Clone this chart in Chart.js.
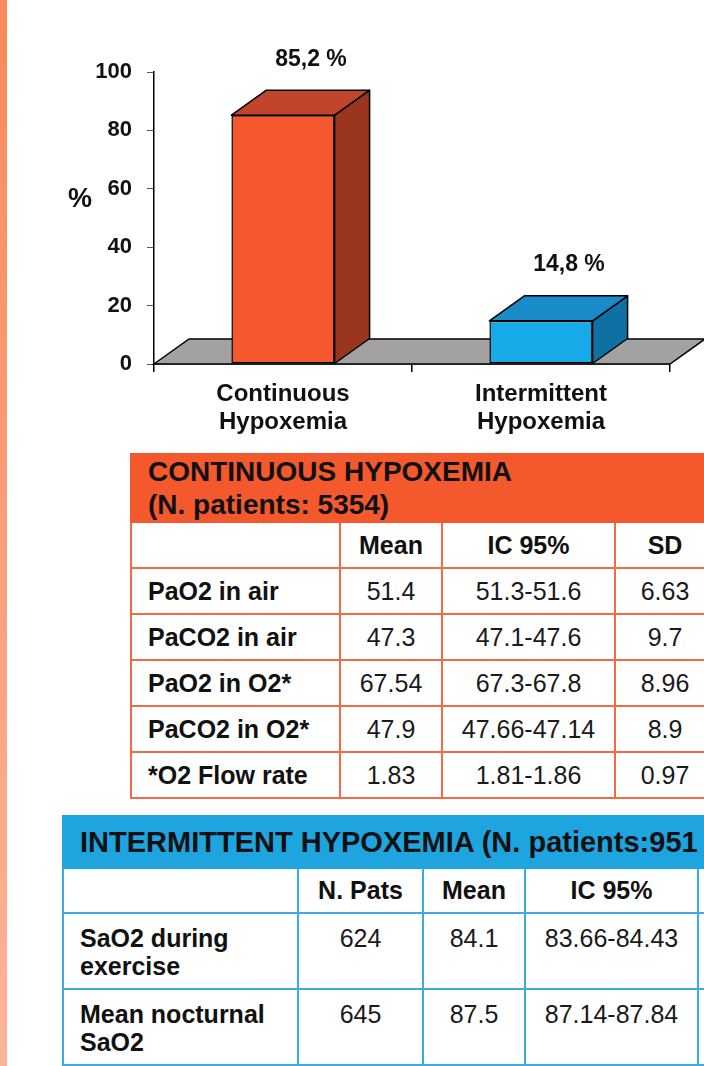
<!DOCTYPE html>
<html>
<head>
<meta charset="utf-8">
<script src="https://cdn.jsdelivr.net/npm/chart.js@4.4.1/dist/chart.umd.min.js"></script>
<style>
  html, body { margin: 0; padding: 0; }
  body {
    width: 704px; height: 1066px; overflow: hidden; position: relative;
    background: #fff; font-family: "Liberation Sans", Arial, sans-serif; color: #111;
  }
  #stripe {
    position: absolute; left: 0; top: 0; width: 7px; height: 1066px;
    background: linear-gradient(#f98a5a, #fbb498);
  }
  #chartBox { position: absolute; left: 0; top: 0; width: 704px; height: 450px; }
  table { position: absolute; border-collapse: collapse; table-layout: fixed; }
  td { font-size: 25px; padding: 0; text-align: center; white-space: nowrap; color: #1a1a1a; }
  td.lbl { text-align: left; padding-left: 16px; font-weight: bold; color: #111; }
  td.hd { font-weight: bold; color: #111; }
  td.title { font-weight: bold; color: #111; }

  #contTable { left: 130px; top: 453px; width: 584px; }
  #contTable td { border: 2px solid #f06c47; height: 44px; }
  #contTable td.title {
    background: #f4592e; border-color: #f4592e; height: 66px; text-align: left;
    vertical-align: top; padding-left: 16px; font-size: 28px; line-height: 33px;
  }

  #interTable { left: 62px; top: 815px; width: 740px; }
  #interTable td { border: 2px solid #3aacdf; }
  #interTable td.title {
    background: #1ea4df; border-color: #1ea4df; height: 48px; text-align: left;
    padding-left: 16px; font-size: 29px; line-height: 49px; vertical-align: top; padding-top: 1px;
  }
  #interTable tr.head td { height: 43px; }
  #interTable tr.row td { height: 64px; vertical-align: top; padding-top: 10px; line-height: 28px; }
  #interTable td.lbl { padding-left: 16px; }
</style>
</head>
<body>
<div id="stripe"></div>
<div id="chartBox"><canvas id="barchart" width="704" height="450"></canvas></div>
<table id="contTable"></table>
<table id="interTable"></table>

<script>
// chart data
const categories = [["Continuous", "Hypoxemia"], ["Intermittent", "Hypoxemia"]];
const percentValues = [85.2, 14.8];
const valueLabels = ["85,2 %", "14,8 %"];
const frontColors = ["#f5582f", "#17a9e8"];
const topColors = ["#c1452b", "#1a8bc9"];
const sideColors = ["#9a3520", "#0f70a3"];

// continuous hypoxemia table
const contTitle = ["CONTINUOUS HYPOXEMIA", "(N. patients: 5354)"];
const contHeader = ["", "Mean", "IC 95%", "SD"];
const contLabels = ["PaO2 in air", "PaCO2 in air", "PaO2 in O2*", "PaCO2 in O2*", "*O2 Flow rate"];
const contMean = ["51.4", "47.3", "67.54", "47.9", "1.83"];
const contIC = ["51.3-51.6", "47.1-47.6", "67.3-67.8", "47.66-47.14", "1.81-1.86"];
const contSD = ["6.63", "9.7", "8.96", "8.9", "0.97"];

// intermittent hypoxemia table
const interTitle = "INTERMITTENT HYPOXEMIA (N. patients:951";
const interHeader = ["", "N. Pats", "Mean", "IC 95%", ""];
const interLabels = [["SaO2 during", "exercise"], ["Mean nocturnal", "SaO2"]];
const interPats = ["624", "645"];
const interMean = ["84.1", "87.5"];
const interIC = ["83.66-84.43", "87.14-87.84"];

const DX = 35, DY = 25;

// floor under the bars
const floorPlugin = {
  id: "floor",
  beforeDatasetsDraw(chart) {
    const ctx = chart.ctx;
    const area = chart.chartArea;
    const y0 = chart.scales.y.getPixelForValue(0);
    ctx.save();
    ctx.beginPath();
    ctx.moveTo(area.left, y0);
    ctx.lineTo(area.left + DX, y0 - DY);
    ctx.lineTo(area.right + DX, y0 - DY);
    ctx.lineTo(area.right, y0);
    ctx.closePath();
    ctx.fillStyle = "#a2a2a2";
    ctx.fill();
    ctx.strokeStyle = "#000";
    ctx.lineWidth = 1.5;
    ctx.stroke();
    ctx.restore();
  }
};

// top + side faces of the bars, value labels and the % title
const boxPlugin = {
  id: "box3d",
  afterDatasetsDraw(chart) {
    const ctx = chart.ctx;
    const meta = chart.getDatasetMeta(0);
    ctx.save();
    ctx.strokeStyle = "#000";
    ctx.lineWidth = 1.5;
    ctx.lineJoin = "round";
    meta.data.forEach((bar, i) => {
      const l = bar.x - bar.width / 2, r = bar.x + bar.width / 2;
      const t = bar.y, b = bar.base;
      // side
      ctx.beginPath();
      ctx.moveTo(r, t);
      ctx.lineTo(r + DX, t - DY);
      ctx.lineTo(r + DX, b - DY);
      ctx.lineTo(r, b);
      ctx.closePath();
      ctx.fillStyle = sideColors[i];
      ctx.fill();
      ctx.stroke();
      // top
      ctx.beginPath();
      ctx.moveTo(l, t);
      ctx.lineTo(l + DX, t - DY);
      ctx.lineTo(r + DX, t - DY);
      ctx.lineTo(r, t);
      ctx.closePath();
      ctx.fillStyle = topColors[i];
      ctx.fill();
      ctx.stroke();

      ctx.fillStyle = "#111";
      ctx.font = "bold 23px 'Liberation Sans', Arial, sans-serif";
      ctx.textAlign = "center";
      ctx.textBaseline = "middle";
      ctx.fillText(valueLabels[i], bar.x + 28, t - 56);
    });
    ctx.font = "bold 27px 'Liberation Sans', Arial, sans-serif";
    ctx.textAlign = "center";
    ctx.textBaseline = "middle";
    ctx.fillStyle = "#111";
    ctx.fillText("%", 80, 200);
    ctx.restore();
  }
};

const ctx = document.getElementById("barchart").getContext("2d");
new Chart(ctx, {
  type: "bar",
  data: {
    labels: categories,
    datasets: [{
      data: percentValues,
      backgroundColor: frontColors,
      borderColor: "#000",
      borderWidth: 1.5,
      borderSkipped: false,
      categoryPercentage: 1,
      barPercentage: 0.4
    }]
  },
  options: {
    responsive: false,
    animation: false,
    devicePixelRatio: 1,
    layout: { padding: { top: 72, right: 34, left: 0, bottom: 0 } },
    plugins: { legend: { display: false }, tooltip: { enabled: false } },
    scales: {
      y: {
        min: 0, max: 100,
        afterFit(scale) { scale.width = 154; },
        ticks: {
          stepSize: 20, padding: 15, color: "#111",
          font: { family: "'Liberation Sans', Arial, sans-serif", size: 22, weight: "bold" }
        },
        grid: { drawOnChartArea: false, tickLength: 7, color: "#555" },
        border: { display: true, color: "#000", width: 1.5 }
      },
      x: {
        afterFit(scale) { scale.height = 86; },
        ticks: {
          padding: 9, color: "#111",
          font: { family: "'Liberation Sans', Arial, sans-serif", size: 24, weight: "bold", lineHeight: 1.15 }
        },
        grid: { drawOnChartArea: false, tickLength: 8, color: "#000", lineWidth: 1.5 },
        border: { display: true, color: "#000", width: 1.5 }
      }
    }
  },
  plugins: [floorPlugin, boxPlugin]
});

// tables
function cell(text, cls) {
  const td = document.createElement("td");
  if (cls) td.className = cls;
  td.innerHTML = text;
  return td;
}

function buildCont() {
  const table = document.getElementById("contTable");
  const cg = document.createElement("colgroup");
  [209, 102, 173, 100].forEach(w => {
    const c = document.createElement("col");
    c.style.width = w + "px";
    cg.appendChild(c);
  });
  table.appendChild(cg);

  let tr = document.createElement("tr");
  const t = cell(contTitle.join("<br>"), "title");
  t.colSpan = 4;
  tr.appendChild(t);
  table.appendChild(tr);

  tr = document.createElement("tr");
  contHeader.forEach(h => tr.appendChild(cell(h, "hd")));
  table.appendChild(tr);

  contLabels.forEach((lab, i) => {
    const row = document.createElement("tr");
    row.appendChild(cell(lab, "lbl"));
    row.appendChild(cell(contMean[i]));
    row.appendChild(cell(contIC[i]));
    row.appendChild(cell(contSD[i]));
    table.appendChild(row);
  });
}

function buildInter() {
  const table = document.getElementById("interTable");
  const cg = document.createElement("colgroup");
  [235, 125, 102, 173, 105].forEach(w => {
    const c = document.createElement("col");
    c.style.width = w + "px";
    cg.appendChild(c);
  });
  table.appendChild(cg);

  let tr = document.createElement("tr");
  const t = cell(interTitle, "title");
  t.colSpan = 5;
  tr.appendChild(t);
  table.appendChild(tr);

  tr = document.createElement("tr");
  tr.className = "head";
  interHeader.forEach(h => tr.appendChild(cell(h, "hd")));
  table.appendChild(tr);

  interLabels.forEach((lab, i) => {
    const row = document.createElement("tr");
    row.className = "row";
    row.appendChild(cell(lab.join("<br>"), "lbl"));
    row.appendChild(cell(interPats[i]));
    row.appendChild(cell(interMean[i]));
    row.appendChild(cell(interIC[i]));
    row.appendChild(cell(""));
    table.appendChild(row);
  });
}

buildCont();
buildInter();
</script>
</body>
</html>
